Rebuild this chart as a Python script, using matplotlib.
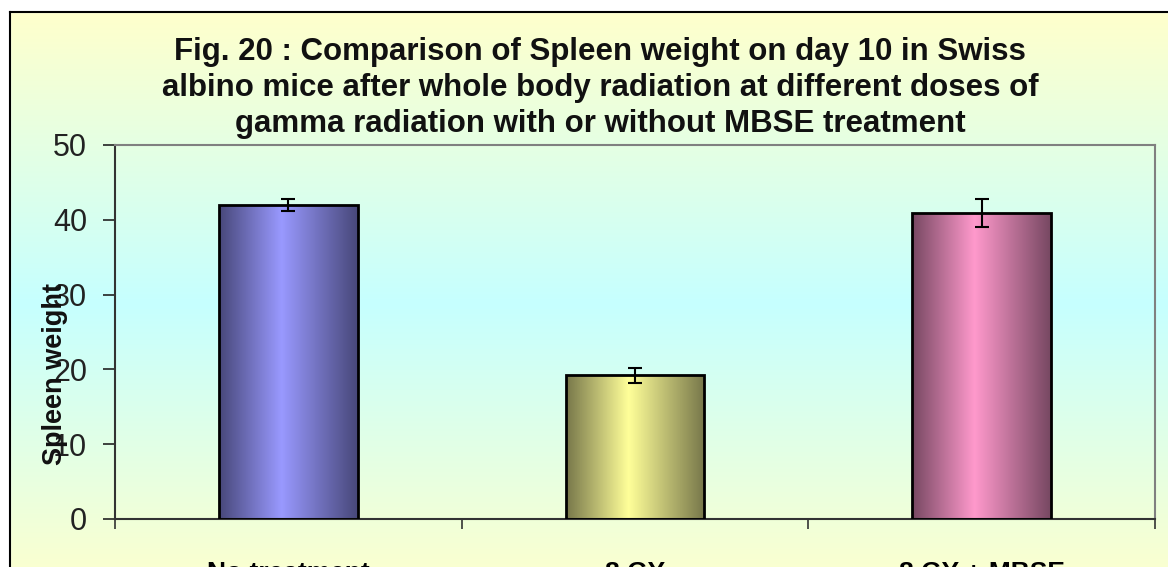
import matplotlib.pyplot as plt
import numpy as np
from matplotlib.colors import LinearSegmentedColormap
from matplotlib.patches import Rectangle

# data
groups = ['No treatment', '8 GY', '8 GY + MBSE']
spleen_weight = [42.0, 19.2, 40.9]
spleen_err = [0.8, 1.0, 1.85]

title = ('Fig. 20 : Comparison of Spleen weight on day 10 in Swiss\n'
         'albino mice after whole body radiation at different doses of\n'
         'gamma radiation with or without MBSE treatment')

# bar shading: dark edge, light centre
bar_colors = [('#48487a', '#9999ff'), ('#77774a', '#ffff99'), ('#774862', '#ff99cc')]

plt.rcParams['font.family'] = ['Liberation Sans', 'DejaVu Sans']

fig = plt.figure(figsize=(11.68, 5.67), dpi=100)

# chart area background gradient (yellow - cyan - yellow)
bg = fig.add_axes([0, 0, 1, 1], zorder=-10)
bg_cmap = LinearSegmentedColormap.from_list(
    'bg', [(0, '#ffffcc'), (0.5, '#c6ffff'), (1, '#ffffcc')])
grad = np.linspace(0, 1, 256).reshape(-1, 1)
bg.imshow(grad, aspect='auto', cmap=bg_cmap, extent=[0, 1, -0.05, 1.0 - 12 / 567],
          origin='upper')
bg.add_patch(Rectangle((0, 1.0 - 12 / 567), 1, 1, color='white', zorder=2))
bg.add_patch(Rectangle((0, 0), 10 / 1168, 1, color='white', zorder=2))
bg.plot([10 / 1168, 10 / 1168], [0, 1 - 12 / 567], color='black', lw=1.5, zorder=3)
bg.plot([10 / 1168, 1], [1 - 12 / 567, 1 - 12 / 567], color='black', lw=1.5, zorder=3)
bg.set_xlim(0, 1)
bg.set_ylim(0, 1)
bg.axis('off')

ax = fig.add_axes([115 / 1168, 48 / 567, 1040 / 1168, 374 / 567])
ax.patch.set_alpha(0)

x = np.arange(len(groups))
bars = ax.bar(x, spleen_weight, width=0.4, facecolor='none', edgecolor='black',
              linewidth=2, zorder=3)

shade = np.linspace(0, 1, 200)
profile = np.interp(shade, [0, 0.45, 1], [0, 1, 0]).reshape(1, -1)
for bar, (dark, light) in zip(bars, bar_colors):
    cm = LinearSegmentedColormap.from_list('b', [dark, light])
    bx, bw, bh = bar.get_x(), bar.get_width(), bar.get_height()
    im = ax.imshow(profile, aspect='auto', cmap=cm, vmin=0, vmax=1,
                   extent=[bx, bx + bw, 0, bh], zorder=2)
    im.set_clip_path(bar)

ax.errorbar(x, spleen_weight, yerr=spleen_err, fmt='none', ecolor='black',
            elinewidth=1.5, capsize=5, capthick=1.5, zorder=4)

ax.set_xlim(-0.5, len(groups) - 0.5)
ax.set_ylim(0, 50)
ax.set_yticks(range(0, 51, 10))
ax.tick_params(axis='y', labelsize=22, length=9, width=1.2, direction='out',
               pad=11, colors='#222222')
ax.set_xticks(x)
ax.set_xticklabels(groups, fontsize=19, fontweight='bold')
ax.tick_params(axis='x', length=0, pad=30)
ax.set_xticks(np.arange(-0.5, len(groups), 1), minor=True)
ax.tick_params(axis='x', which='minor', length=7, width=1.2, color='#333333')

ax.spines['left'].set_color('#333333')
ax.spines['bottom'].set_color('#333333')
ax.spines['left'].set_linewidth(1.5)
ax.spines['bottom'].set_linewidth(1.5)
ax.spines['top'].set_color('#808080')
ax.spines['right'].set_color('#808080')
ax.spines['top'].set_linewidth(1.5)
ax.spines['right'].set_linewidth(1.5)

fig.text(0.514, 1 - 88 / 567, title, ha='center', va='center', fontsize=22.5,
         fontweight='bold', linespacing=1.28, color='#111111')
fig.text(55 / 1168, 1 - 374 / 567, 'Spleen weight', rotation=90, ha='center',
         va='center', fontsize=19.5, fontweight='bold', color='#111111')

fig.savefig('out.png', dpi=100)
